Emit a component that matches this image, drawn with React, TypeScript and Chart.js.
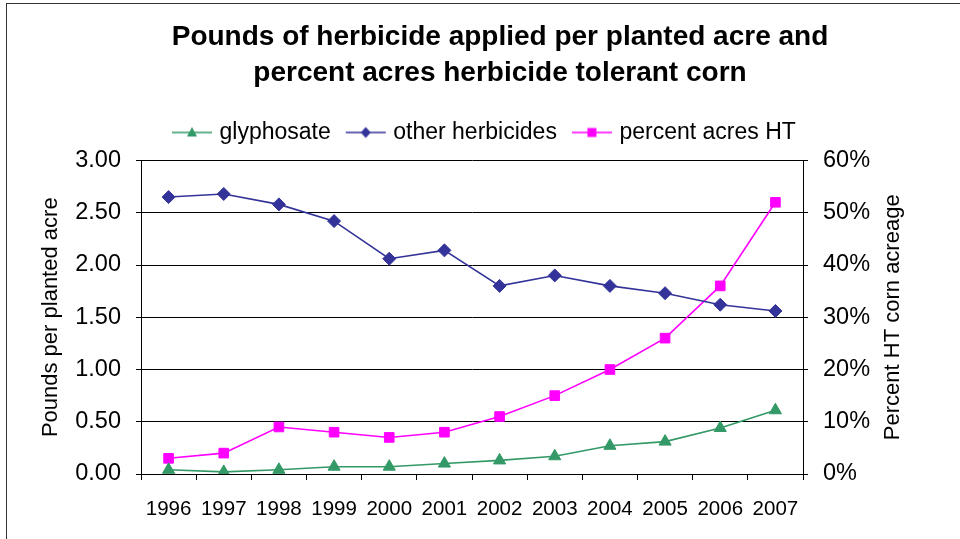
import React, { useEffect, useRef } from 'react';
import { Chart, registerables } from 'chart.js';

Chart.register(...registerables);

const years = ['1996', '1997', '1998', '1999', '2000', '2001', '2002', '2003', '2004', '2005', '2006', '2007'];
const glyphosate = [0.04, 0.02, 0.04, 0.07, 0.07, 0.10, 0.13, 0.17, 0.27, 0.31, 0.44, 0.61];
const otherHerbicides = [2.65, 2.68, 2.58, 2.42, 2.06, 2.14, 1.80, 1.90, 1.80, 1.73, 1.62, 1.56];
const percentHT = [3, 4, 9, 8, 7, 8, 11, 15, 20, 26, 36, 52];

const seriesNames = ['glyphosate', 'other herbicides', 'percent acres HT'];
const titleLines = ['Pounds of herbicide applied per planted acre and', 'percent acres herbicide tolerant corn'];
const leftTitle = 'Pounds per planted acre';
const rightTitle = 'Percent HT corn acreage';

const GREEN = '#339966';
const NAVY = '#333399';
const MAGENTA = '#FF00FF';
const FONT = "'Liberation Sans', Arial, Helvetica, sans-serif";

function makeIcon(color: string, shape: 'triangle' | 'diamond' | 'square') {
  const c = document.createElement('canvas');
  c.width = 48;
  c.height = 16;
  const ctx = c.getContext('2d')!;
  ctx.strokeStyle = color;
  ctx.lineWidth = 1.6;
  ctx.beginPath();
  ctx.moveTo(6, 8);
  ctx.lineTo(46, 8);
  ctx.stroke();
  ctx.fillStyle = color;
  const cx = 26;
  const cy = 8;
  ctx.beginPath();
  if (shape === 'triangle') {
    ctx.moveTo(cx, cy - 5.5);
    ctx.lineTo(cx + 5, cy + 4);
    ctx.lineTo(cx - 5, cy + 4);
  } else if (shape === 'diamond') {
    ctx.moveTo(cx, cy - 5.5);
    ctx.lineTo(cx + 5, cy);
    ctx.lineTo(cx, cy + 5.5);
    ctx.lineTo(cx - 5, cy);
  } else {
    ctx.rect(cx - 4.5, cy - 4.5, 9, 9);
  }
  ctx.closePath();
  ctx.fill();
  return c;
}

const refLayout = {
  id: 'refLayout',
  beforeDraw(chart: any) {
    const lg = chart.legend;
    if (lg) {
      lg.left = 157;
      lg.top = 106;
    }
  },
  afterDraw(chart: any) {
    const { ctx, chartArea } = chart;
    ctx.save();
    ctx.translate(893, (chartArea.top + chartArea.bottom) / 2);
    ctx.rotate(-Math.PI / 2);
    ctx.font = `22px ${FONT}`;
    ctx.fillStyle = '#000';
    ctx.textAlign = 'center';
    ctx.textBaseline = 'middle';
    ctx.fillText(rightTitle, 0, 0);
    ctx.restore();
  },
};

export default function App() {
  const ref = useRef<HTMLCanvasElement>(null);

  useEffect(() => {
    const canvas = ref.current;
    if (!canvas) return;
    const icons = [makeIcon(GREEN, 'triangle'), makeIcon(NAVY, 'diamond'), makeIcon(MAGENTA, 'square')];
    const chart = new Chart(canvas, {
      type: 'line',
      data: {
        labels: years,
        datasets: [
          {
            label: seriesNames[0],
            data: glyphosate,
            borderColor: GREEN,
            backgroundColor: GREEN,
            borderWidth: 1.6,
            pointStyle: 'triangle',
            pointRadius: 7,
            pointBorderWidth: 1,
            tension: 0,
            yAxisID: 'y',
          },
          {
            label: seriesNames[1],
            data: otherHerbicides,
            borderColor: NAVY,
            backgroundColor: NAVY,
            borderWidth: 1.6,
            pointStyle: 'rectRot',
            pointRadius: 6.5,
            pointBorderWidth: 1,
            tension: 0,
            yAxisID: 'y',
          },
          {
            label: seriesNames[2],
            data: percentHT,
            borderColor: MAGENTA,
            backgroundColor: MAGENTA,
            borderWidth: 1.6,
            pointStyle: 'rect',
            pointRadius: 6.8,
            pointBorderWidth: 1,
            tension: 0,
            yAxisID: 'y1',
          },
        ],
      },
      options: {
        responsive: false,
        maintainAspectRatio: false,
        animation: false,
        events: [],
        layout: { padding: 0 },
        plugins: {
          tooltip: { enabled: false },
          title: {
            display: true,
            text: titleLines,
            color: '#000',
            font: { family: FONT, size: 28, weight: 'bold', lineHeight: 36 / 28 },
            padding: { top: 19.5, bottom: 21 },
          },
          legend: {
            display: true,
            position: 'top',
            align: 'start',
            labels: {
              usePointStyle: true,
              pointStyleWidth: 36,
              padding: 15,
              color: '#000',
              font: { family: FONT, size: 23 },
              generateLabels: (ch: any) => {
                const items = (Chart.defaults.plugins.legend.labels as any).generateLabels(ch);
                return items.map((it: any, i: number) => ({ ...it, pointStyle: icons[i], fontColor: '#000' }));
              },
            },
          },
        },
        scales: {
          x: {
            type: 'category',
            offset: true,
            grid: {
              display: true,
              drawOnChartArea: false,
              drawTicks: true,
              tickLength: 6,
              offset: true,
              color: '#000',
            },
            border: { display: true, color: '#000', width: 1 },
            ticks: {
              color: '#000',
              font: { family: FONT, size: 20.5 },
              padding: 17,
              maxRotation: 0,
              autoSkip: false,
            },
            afterFit: (s: any) => {
              s.height = 65;
            },
          },
          y: {
            type: 'linear',
            position: 'left',
            min: 0,
            max: 3,
            ticks: {
              stepSize: 0.5,
              color: '#000',
              font: { family: FONT, size: 23.5 },
              padding: 15,
              callback: (v: any) => Number(v).toFixed(2),
            },
            grid: {
              color: '#000',
              lineWidth: 1,
              drawTicks: true,
              tickLength: 5,
            },
            border: { display: true, color: '#000', width: 1 },
            title: {
              display: true,
              text: leftTitle,
              color: '#000',
              font: { family: FONT, size: 22 },
              padding: { top: 37.5, bottom: 0 },
            },
            afterFit: (s: any) => {
              s.width = 141;
            },
          },
          y1: {
            type: 'linear',
            position: 'right',
            min: 0,
            max: 60,
            ticks: {
              stepSize: 10,
              color: '#000',
              font: { family: FONT, size: 23.5 },
              padding: 15,
              callback: (v: any) => `${v}%`,
            },
            grid: {
              drawOnChartArea: false,
              color: '#000',
              drawTicks: true,
              tickLength: 5,
            },
            border: { display: true, color: '#000', width: 1 },
            afterFit: (s: any) => {
              s.width = 197;
            },
          },
        },
      },
      plugins: [refLayout],
    } as any);
    return () => chart.destroy();
  }, []);

  return (
    <div
      style={{
        position: 'fixed',
        left: 0,
        top: 0,
        width: 960,
        height: 539,
        overflow: 'hidden',
        background: '#fff',
      }}
    >
      <div
        style={{
          position: 'absolute',
          left: 6,
          top: 3,
          width: 2000,
          height: 2000,
          borderLeft: '1px solid #333',
          borderTop: '1px solid #333',
        }}
      />
      <canvas
        ref={ref}
        width={1000}
        height={539}
        style={{ position: 'absolute', left: 0, top: 0, width: 1000, height: 539 }}
      />
    </div>
  );
}
